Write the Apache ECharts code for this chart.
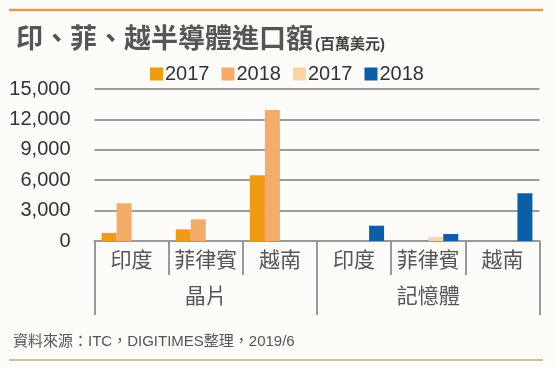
<!DOCTYPE html>
<html>
<head>
<meta charset="utf-8">
<script src="https://cdn.jsdelivr.net/npm/echarts@6/dist/echarts.min.js"></script>
<style>
html,body{margin:0;padding:0;background:#fdfcf8;}
#c{width:556px;height:367px;}
</style>
</head>
<body>
<div id="c"></div>
<script>
const categories = ['印度', '菲律賓', '越南', '印度', '菲律賓', '越南'];
const groups = ['晶片', '記憶體'];
const chip2017 = [800, 1150, 6480, null, null, null];
const chip2018 = [3720, 2140, 12930, null, null, null];
const mem2017 = [null, null, null, 0, 400, 0];
const mem2018 = [null, null, null, 1510, 690, 4710];
const seriesNames = ['2017 晶片', '2018 晶片', '2017 記憶體', '2018 記憶體'];
const yTicks = { min: 0, max: 15000, interval: 3000 };

const FONT = '"Liberation Sans", "Noto Sans CJK TC", sans-serif';
const chart = echarts.init(document.getElementById('c'), null, { renderer: 'canvas' });

function mk(name, data, color) {
  return {
    name: name, type: 'bar', data: data, barWidth: 15, barGap: '0%',
    itemStyle: { color: color }, xAxisIndex: 0, yAxisIndex: 0
  };
}

chart.setOption({
  backgroundColor: '#fdfcf8',
  animation: false,
  textStyle: { fontFamily: FONT },
  title: {
    left: 11, top: 22,
    text: '{a|印、菲、越半導體進口額}{b|(百萬美元)}',
    textStyle: {
      rich: {
        a: { fontSize: 27, fontWeight: 'bold', color: '#555', fontFamily: FONT },
        b: { fontSize: 15, color: '#444', fontFamily: FONT, padding: [8, 0, 0, 2] }
      }
    }
  },
  legend: {
    left: 145, top: 59, itemWidth: 13, itemHeight: 13, itemGap: 12,
    icon: 'rect',
    data: seriesNames,
    formatter: function (n) { return n.split(' ')[0]; },
    textStyle: { fontSize: 20, color: '#333', fontFamily: FONT, padding: [0, 0, 0, -3] }
  },
  grid: { left: 94.5, right: 16.5, top: 89, bottom: 126, containLabel: false },
  xAxis: [
    {
      type: 'category', data: categories, position: 'bottom',
      axisLine: { show: true, lineStyle: { color: '#999', width: 2 } },
      axisTick: { show: true, length: 34, interval: 0, lineStyle: { color: '#999', width: 2 } },
      axisLabel: { margin: 10, fontSize: 21, color: '#555', interval: 0, fontFamily: FONT }
    },
    {
      type: 'category', data: groups, position: 'bottom',
      axisLine: { show: false },
      axisTick: { show: true, length: 74, interval: 0, lineStyle: { color: '#999', width: 2 } },
      axisLabel: { margin: 46, fontSize: 21, color: '#555', fontFamily: FONT }
    }
  ],
  yAxis: {
    type: 'value', min: yTicks.min, max: yTicks.max, interval: yTicks.interval,
    axisLine: { show: false }, axisTick: { show: false },
    splitLine: { lineStyle: { color: '#9c9c9c', width: 2 } },
    axisLabel: {
      margin: 24, fontSize: 20, color: '#333', fontFamily: FONT,
      formatter: function (v) { return v.toLocaleString('en-US'); }
    }
  },
  graphic: [
    { type: 'line', shape: { x1: 9, y1: 10, x2: 543, y2: 10 }, style: { stroke: '#e59c48', lineWidth: 2.5 } },
    { type: 'line', shape: { x1: 9, y1: 360, x2: 543, y2: 360 }, style: { stroke: '#c9aa78', lineWidth: 1.5 } },
    { type: 'text', left: 13, top: 334, style: { text: '資料來源：ITC，DIGITIMES整理，2019/6', font: '15px ' + FONT, fill: '#555' } }
  ],
  series: [
    mk(seriesNames[0], chip2017, '#ef9b14'),
    mk(seriesNames[1], chip2018, '#f4ad68'),
    mk(seriesNames[2], mem2017, '#fbd6a2'),
    mk(seriesNames[3], mem2018, '#0b5ea8')
  ]
});
</script>
</body>
</html>
